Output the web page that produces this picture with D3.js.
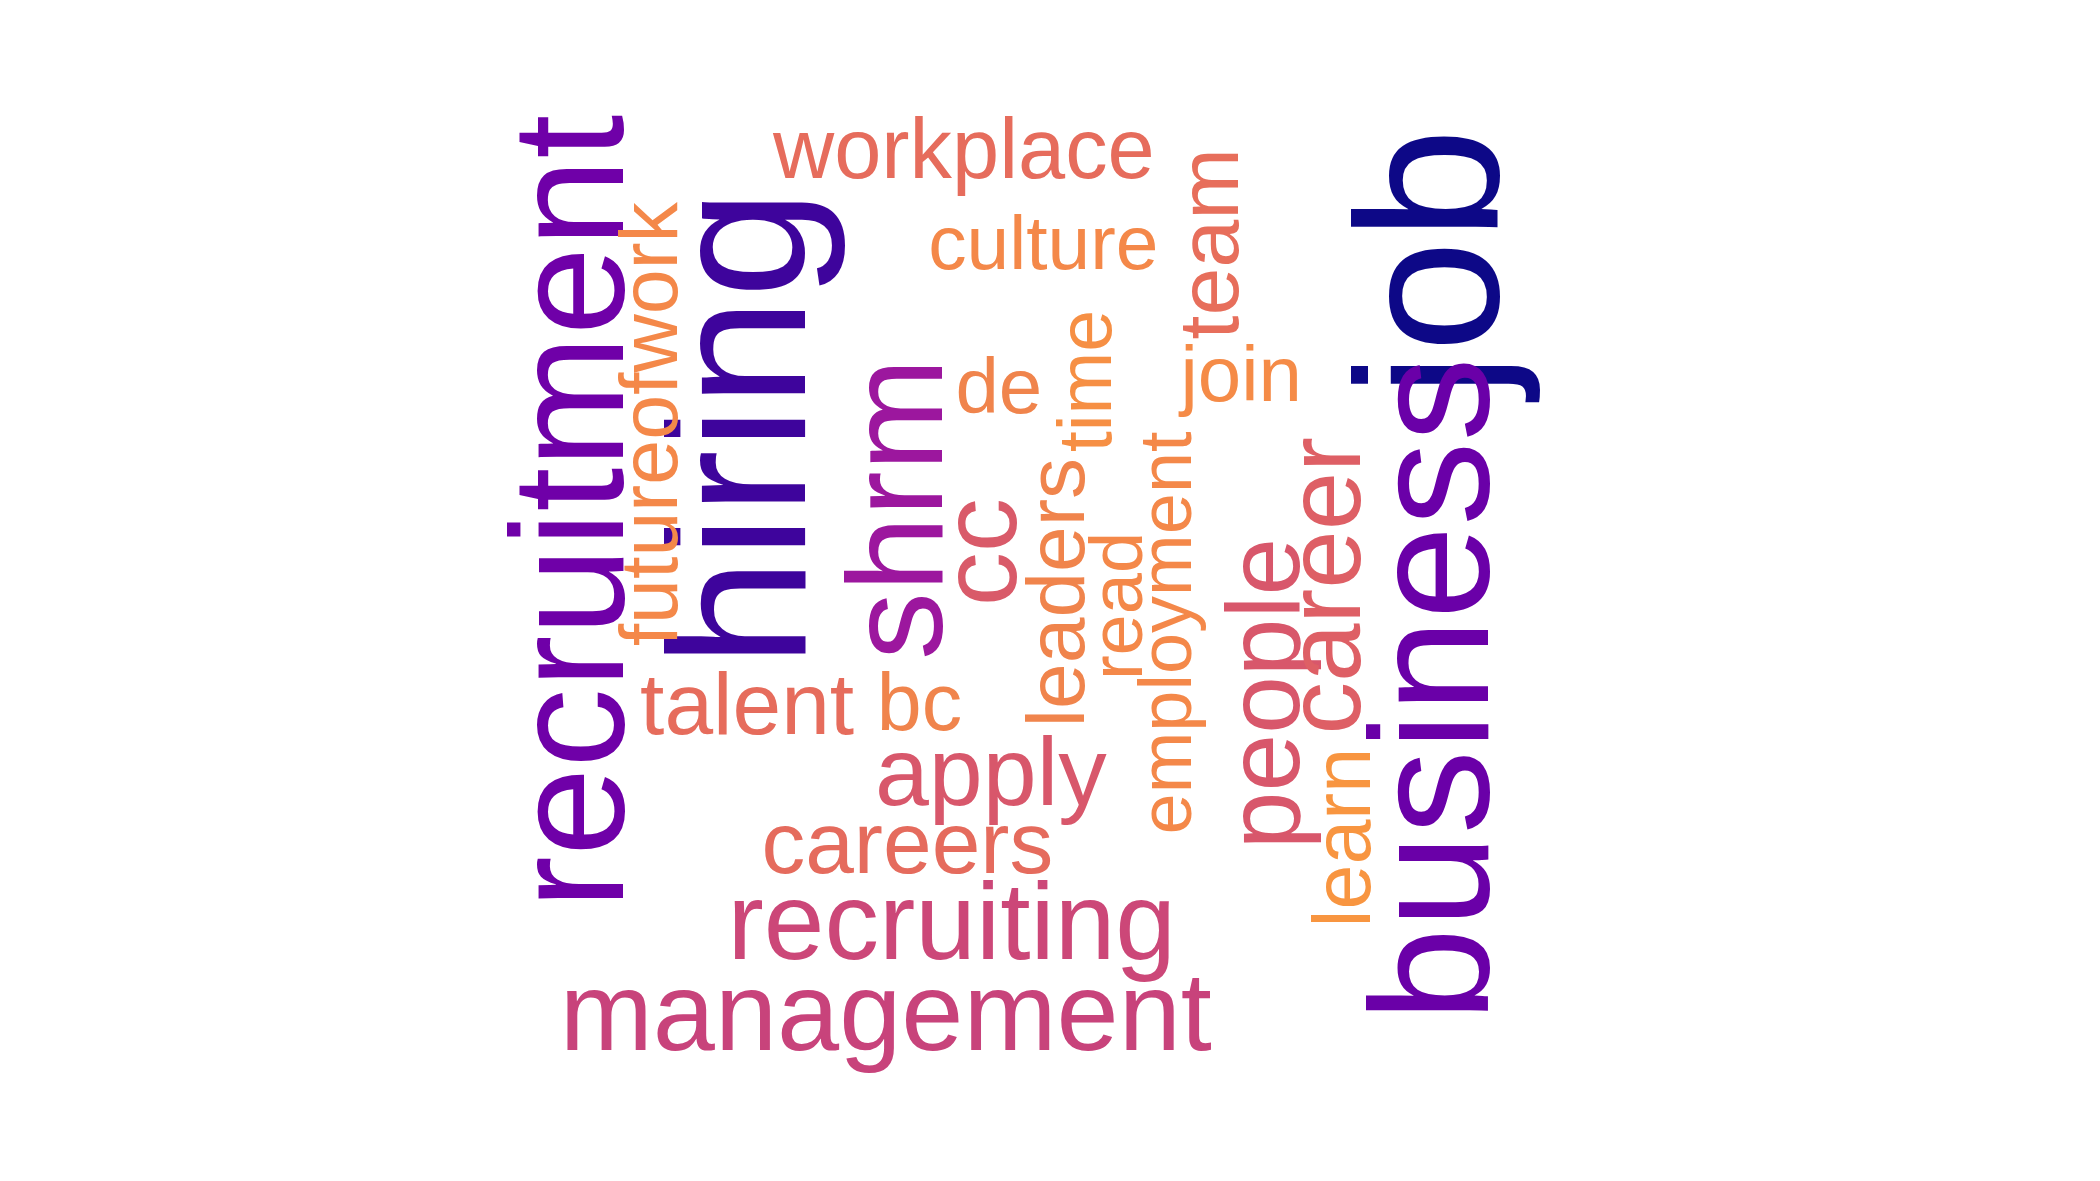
<!DOCTYPE html>
<html>
<head>
<meta charset="utf-8">
<script src="https://cdn.jsdelivr.net/npm/d3@7"></script>
<style>
  body { margin: 0; background: #fff; }
</style>
</head>
<body>
<script>
const width = 2100, height = 1181;

// words, weights (font size in layout units), rotation, layout slot (centre, baseline)
const words = ["job", "business", "hiring", "recruitment", "shrm", "management", "recruiting",
  "people", "career", "apply", "cc", "careers", "talent", "workplace", "team", "bc", "de",
  "culture", "join", "futureofwork", "leaders", "employment", "time", "read", "learn"];
const sizes = [150, 125, 145, 118, 101, 83, 81, 77, 78, 72, 80, 65, 65, 63, 64, 60, 58, 57, 58, 60, 61, 55, 56, 55, 60];
const rotated = [1, 1, 1, 1, 1, 0, 0, 1, 1, 0, 1, 0, 0, 0, 1, 0, 0, 0, 0, 1, 1, 1, 1, 1, 1];
const slotX = [1113, 1105, 598, 463, 700, 658, 707, 965, 1010, 736, 755, 674, 555, 716, 920, 683, 742, 775, 922, 503, 805, 885, 825, 848, 1018];
const slotY = [195, 512, 318, 380, 378, 780, 712, 515, 435, 598, 410, 648, 545, 132, 181, 542, 307, 200, 298, 315, 440, 470, 283, 450, 622];
const colors = ["#0d0887", "#6a00a8", "#3e049c", "#6f00a8", "#9c179e", "#c8437b", "#cc4778",
  "#d8576b", "#de5f65", "#d8576b", "#d95a69", "#e56b5d", "#e66c5c", "#e66c5c", "#e76e5b", "#f0844c", "#f0844c",
  "#f48849", "#f58b47", "#f48849", "#f0844c", "#f48849", "#f68f44", "#f48849", "#f89540"];

const x = d3.scaleLinear().domain([0, 1560]).range([0, width]);
const y = d3.scaleLinear().domain([0, 877]).range([0, height]);
const fs = d3.scaleLinear().domain([0, 1560]).range([0, width]);

const data = words.map((w, i) => ({ w, s: sizes[i], r: rotated[i], x: slotX[i], y: slotY[i], c: colors[i] }));

const svg = d3.select("body").append("svg")
  .attr("width", width)
  .attr("height", height);

svg.selectAll("text")
  .data(data)
  .join("text")
    .attr("transform", d => `translate(${x(d.x)},${y(d.y)}) rotate(${d.r ? -90 : 0})`)
    .attr("text-anchor", "middle")
    .attr("font-family", "'Liberation Sans', Arial, sans-serif")
    .attr("font-size", d => fs(d.s))
    .attr("fill", d => d.c)
    .text(d => d.w);
</script>
</body>
</html>
